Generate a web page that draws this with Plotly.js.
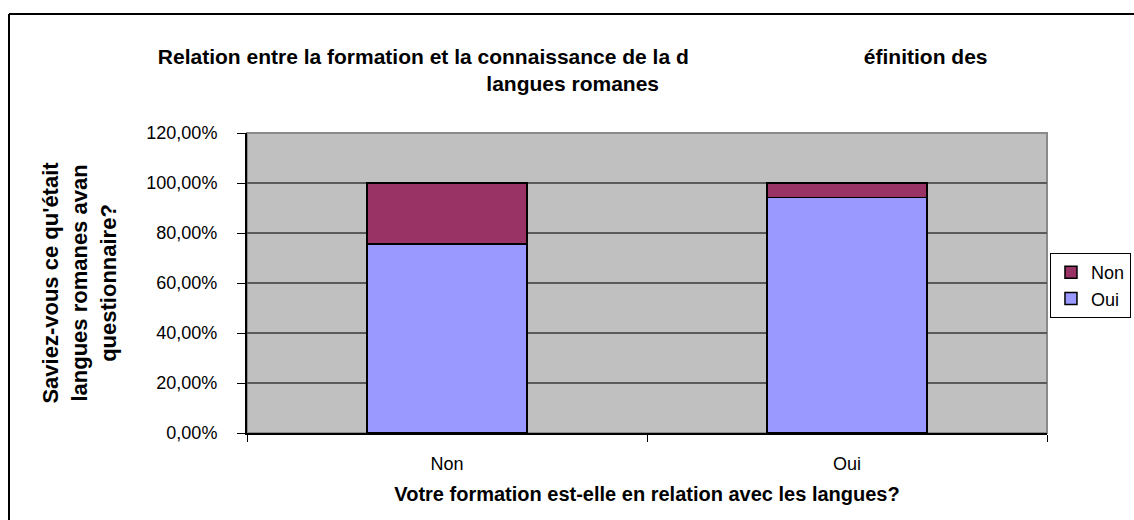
<!DOCTYPE html>
<html>
<head>
<meta charset="utf-8">
<script src="https://cdn.plot.ly/plotly-3.0.1.min.js"></script>
<style>html,body{margin:0;padding:0;background:#fff;}#chart{width:1134px;height:520px;}</style>
</head>
<body>
<div id="chart"></div>
<script>
const categories = ["Non", "Oui"];
const ouiValues = [0.756, 0.942];
const nonValues = [0.244, 0.058];
const seriesNames = ["Oui", "Non"];
const yTicks = [0, 0.2, 0.4, 0.6, 0.8, 1.0, 1.2];

const FONT = "Liberation Sans, Arial, sans-serif";

const traces = [
  {type: "bar", name: seriesNames[0], x: categories, y: ouiValues,
   marker: {color: "#9999FF", line: {color: "#000000", width: 1.5}}},
  {type: "bar", name: seriesNames[1], x: categories, y: nonValues,
   marker: {color: "#993366", line: {color: "#000000", width: 1.5}}}
];

const layout = {
  width: 1134, height: 520,
  margin: {l: 247, r: 87, t: 133, b: 87, autoexpand: false},
  paper_bgcolor: "#FFFFFF",
  plot_bgcolor: "#C0C0C0",
  barmode: "stack",
  bargap: 0.6,
  separators: ",.",
  showlegend: true,
  font: {family: FONT, color: "#000000", size: 18},
  title: {
    text: "<b>Relation entre la formation et la connaissance de la d                              éfinition des<br>langues romanes</b>",
    font: {family: FONT, size: 21, color: "#000000"},
    x: 0.505, xanchor: "center", y: 0.877, yanchor: "middle"
  },
  xaxis: {
    type: "category",
    tickson: "boundaries",
    ticks: "outside", ticklen: 7, tickcolor: "#000000", tickwidth: 1,
    showline: true, linecolor: "#000000", linewidth: 2,
    showgrid: false, zeroline: false,
    ticklabelstandoff: 13,
    tickfont: {family: FONT, size: 18},
    title: {text: "<b>Votre formation est-elle en relation avec les langues?</b>",
            font: {family: FONT, size: 20}, standoff: 14}
  },
  yaxis: {
    range: [0, 1.2],
    tickvals: yTicks,
    tickformat: ".2%",
    ticks: "outside", ticklen: 8, tickcolor: "#000000", tickwidth: 1,
    showline: true, linecolor: "#000000", linewidth: 2,
    showgrid: true, gridcolor: "#5A5A5A", gridwidth: 1.5,
    zeroline: false,
    ticklabelstandoff: 16,
    tickfont: {family: FONT, size: 18},
    title: {text: "<b>Saviez-vous ce qu'était<br>langues romanes avan<br>questionnaire?</b>",
            font: {family: FONT, size: 22}, standoff: 24}
  },
  legend: {
    xref: "container", yref: "container",
    x: 0.9259, xanchor: "left", y: 0.5135, yanchor: "top",
    bgcolor: "#FFFFFF", bordercolor: "#000000", borderwidth: 1,
    font: {family: FONT, size: 18},
    traceorder: "reversed"
  },
  shapes: [
    {type: "rect", xref: "paper", yref: "paper", x0: 0, x1: 1, y0: 0, y1: 1,
     line: {color: "#8A8A8A", width: 2}, layer: "below"},
    {type: "line", xref: "paper", yref: "paper", x0: -0.2975, x1: -0.2975, y0: -0.3, y1: 1.3967,
     line: {color: "#000000", width: 2}},
    {type: "line", xref: "paper", yref: "paper", x0: -0.2975, x1: 1.2, y0: 1.3967, y1: 1.3967,
     line: {color: "#000000", width: 2}}
  ]
};

Plotly.newPlot("chart", traces, layout, {displayModeBar: false, staticPlot: true});
</script>
</body>
</html>
